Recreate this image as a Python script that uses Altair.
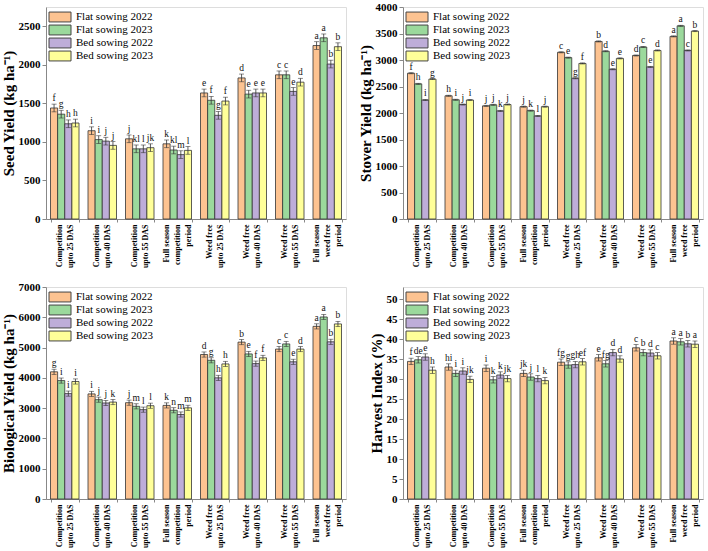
import altair as alt
import pandas as pd

treatments = [
    "Competition|upto 25 DAS",
    "Competition|upto 40 DAS",
    "Competition|upto 55 DAS",
    "Full season|competition|period",
    "Weed free|upto 25 DAS",
    "Weed free|upto 40 DAS",
    "Weed free|upto 55 DAS",
    "Full season|weed free|period",
]
series = ["Flat sowing 2022", "Flat sowing 2023", "Bed sowing 2022", "Bed sowing 2023"]
colors = ["#FDC391", "#9BD99C", "#BEADD9", "#FFFF99"]

# Seed yield (kg/ha)
seed = {
    "Flat sowing 2022": [1440, 1145, 1040, 975, 1635, 1830, 1870, 2250],
    "Flat sowing 2023": [1360, 1030, 910, 895, 1540, 1620, 1870, 2350],
    "Bed sowing 2022": [1235, 1010, 910, 835, 1345, 1635, 1655, 2010],
    "Bed sowing 2023": [1245, 955, 925, 890, 1530, 1635, 1775, 2235],
}
seed_letters = {
    "Flat sowing 2022": ["f", "i", "j", "k", "e", "d", "c", "a"],
    "Flat sowing 2023": ["g", "i", "kl", "kl", "f", "e", "c", "a"],
    "Bed sowing 2022": ["h", "j", "l", "m", "g", "e", "e", "b"],
    "Bed sowing 2023": ["h", "j", "jk", "l", "f", "e", "d", "b"],
}
seed_err = 50

# Stover yield (kg/ha)
stover = {
    "Flat sowing 2022": [2750, 2325, 2135, 2120, 3145, 3350, 3085, 3445],
    "Flat sowing 2023": [2550, 2250, 2155, 2045, 3045, 3165, 3245, 3645],
    "Bed sowing 2022": [2245, 2160, 2040, 1945, 2655, 2825, 2870, 3180],
    "Bed sowing 2023": [2640, 2245, 2160, 2120, 2935, 3030, 3180, 3545],
}
stover_letters = {
    "Flat sowing 2022": ["f", "h", "j", "j", "c", "b", "d", "a"],
    "Flat sowing 2023": ["h", "i", "j", "k", "e", "d", "c", "a"],
    "Bed sowing 2022": ["i", "j", "k", "l", "g", "e", "e", "c"],
    "Bed sowing 2023": ["g", "i", "j", "j", "f", "e", "d", "b"],
}
stover_err = 10

# Biological yield (kg/ha)
bio = {
    "Flat sowing 2022": [4200, 3470, 3180, 3090, 4770, 5180, 4950, 5700],
    "Flat sowing 2023": [3910, 3280, 3060, 2930, 4580, 4790, 5120, 6010],
    "Bed sowing 2022": [3480, 3170, 2950, 2790, 4000, 4470, 4530, 5190],
    "Bed sowing 2023": [3880, 3200, 3080, 3010, 4460, 4660, 4950, 5780],
}
bio_letters = {
    "Flat sowing 2022": ["g", "i", "j", "k", "d", "b", "c", "a"],
    "Flat sowing 2023": ["i", "j", "m", "n", "g", "e", "c", "a"],
    "Bed sowing 2022": ["i", "j", "l", "m", "h", "f", "e", "b"],
    "Bed sowing 2023": ["i", "k", "l", "m", "h", "f", "d", "b"],
}
bio_err = 85

# Harvest index (%)
hi = {
    "Flat sowing 2022": [34.4, 33.0, 32.7, 31.4, 34.2, 35.3, 37.8, 39.5],
    "Flat sowing 2023": [34.8, 31.4, 29.8, 30.5, 33.5, 33.8, 36.6, 39.3],
    "Bed sowing 2022": [35.5, 32.0, 31.0, 30.1, 33.6, 36.6, 36.5, 38.8],
    "Bed sowing 2023": [32.2, 29.9, 30.1, 29.6, 34.3, 35.0, 35.8, 38.7],
}
hi_letters = {
    "Flat sowing 2022": ["f", "hi", "i", "jk", "fg", "e", "c", "a"],
    "Flat sowing 2023": ["de", "i", "k", "j", "g", "fg", "b", "a"],
    "Bed sowing 2022": ["e", "i", "k", "l", "gh", "d", "d", "b"],
    "Bed sowing 2023": ["h", "jk", "jk", "k", "ef", "d", "c", "a"],
}
hi_err = 0.8

SERIF = "Liberation Serif"
LINE_H = 11


def table(values, letters, err):
    rows = []
    for s in series:
        for t, v, l in zip(treatments, values[s], letters[s]):
            rows.append({"treatment": t, "series": s, "value": v,
                         "lo": v - err, "hi": v + err, "letter": l})
    return pd.DataFrame(rows)


# multi-line labels are drawn downward from the tick; shift each block so it is centred
label_shift = {
    "condition": {"test": "length(split(datum.value, '|')) > 2", "value": -LINE_H},
    "value": -LINE_H / 2,
}


def panel(values, letters, err, title, ymax, ticks):
    df = table(values, letters, err)
    x_axis = alt.Axis(labelAngle=-90, labelExpr="split(datum.label, '|')",
                      labelFont=SERIF, labelFontWeight="bold", labelFontSize=8,
                      labelLineHeight=LINE_H, tickBand="extent", labelPadding=2,
                      tickSize=3, labelOverlap=False, labelBound=False,
                      labelOffset=label_shift)
    x = alt.X("treatment:N", sort=treatments, title=None,
              scale=alt.Scale(paddingInner=0.24, paddingOuter=0.12), axis=x_axis)
    xo = alt.XOffset("series:N", sort=series, scale=alt.Scale(paddingInner=0, paddingOuter=0))
    yscale = alt.Scale(domain=[0, ymax], nice=False, zero=True)
    y_axis = alt.Axis(values=ticks, format="d", labelOverlap=False,
                      labelFont=SERIF, labelFontWeight="bold",
                      labelFontSize=11, titleFont=SERIF, titleFontWeight="bold",
                      titleFontSize=15, titlePadding=2, tickSize=4, grid=False)
    y = alt.Y("value:Q", scale=yscale, title=title, axis=y_axis)
    base = alt.Chart(df)
    bars = base.mark_bar(stroke="#333333", strokeWidth=0.8).encode(
        x=x, xOffset=xo, y=y,
        color=alt.Color("series:N", sort=series,
                        scale=alt.Scale(domain=series, range=colors),
                        legend=alt.Legend(title=None, orient="none", legendX=8, legendY=4,
                                          symbolType="M-2,-0.9H2V0.9H-2Z", symbolSize=121,
                                          symbolStrokeColor="#444444", symbolStrokeWidth=1,
                                          symbolOpacity=1, labelFont=SERIF, labelFontSize=11,
                                          labelOffset=10, rowPadding=-2, padding=0)),
    )
    yl = alt.Y("lo:Q", scale=yscale, title=title, axis=y_axis)
    yh = alt.Y("hi:Q", scale=yscale, title=title, axis=y_axis)
    xx = alt.X("treatment:N", sort=treatments, title=None, axis=x_axis)
    rules = base.mark_rule(color="#333333", strokeWidth=0.8).encode(
        x=xx, xOffset=xo, y=yl, y2="hi:Q")
    cap_lo = base.mark_tick(color="#333333", thickness=0.8, size=5, orient="horizontal").encode(
        x=xx, xOffset=xo, y=yl)
    cap_hi = base.mark_tick(color="#333333", thickness=0.8, size=5, orient="horizontal").encode(
        x=xx, xOffset=xo, y=yh)
    labels = base.mark_text(font=SERIF, fontSize=9.5, baseline="bottom", dy=-1, color="#111111").encode(
        x=xx, xOffset=xo, y=yh, text="letter:N")
    return alt.layer(bars, rules, cap_lo, cap_hi, labels).properties(width=300, height=212)


p1 = panel(seed, seed_letters, seed_err, "Seed Yield (kg ha\u207B\u00B9)", 2750,
           [0, 500, 1000, 1500, 2000, 2500])
p2 = panel(stover, stover_letters, stover_err, "Stover Yield (kg ha\u207B\u00B9)", 4000,
           [0, 500, 1000, 1500, 2000, 2500, 3000, 3500, 4000])
p3 = panel(bio, bio_letters, bio_err, "Biological Yield (kg ha\u207B\u00B9)", 7000,
           [0, 1000, 2000, 3000, 4000, 5000, 6000, 7000])
p4 = panel(hi, hi_letters, hi_err, "Harvest Index (%)", 53,
           [0, 5, 10, 15, 20, 25, 30, 35, 40, 45, 50])

# a 2x2 grid; frames are spaced directly (flush bounds), leaving room for the axes between them
chart = alt.concat(p1, p2, p3, p4, columns=2, bounds="flush",
                   spacing={"row": 68, "column": 57}).resolve_scale(
    color="independent").resolve_legend(color="independent").properties(
    padding={"left": 0, "top": 0, "right": 0, "bottom": 0}
).configure_view(stroke="black", strokeWidth=1).configure_axis(
    domainColor="black", tickColor="black", labelColor="black", titleColor="black"
).configure(background="white")

chart.save("out.html", embed_options={"renderer": "svg", "actions": False})
